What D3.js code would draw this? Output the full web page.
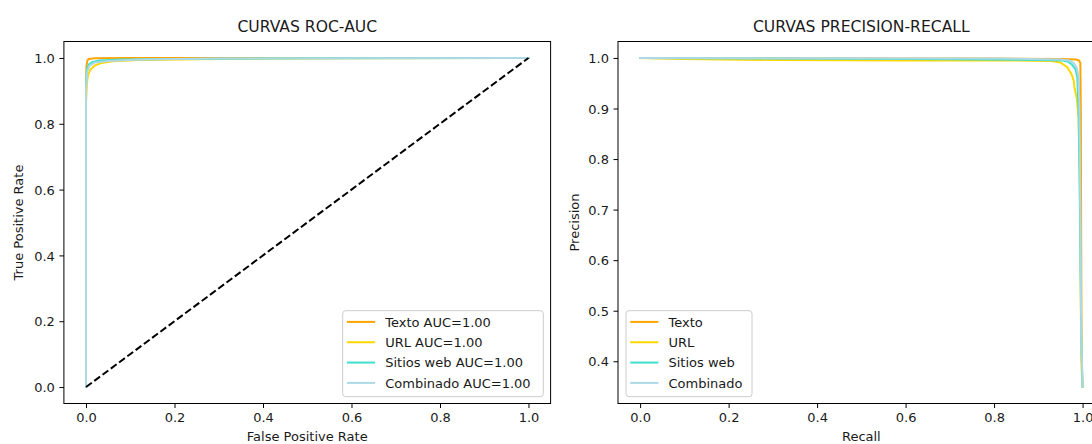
<!DOCTYPE html>
<html>
<head>
<meta charset="utf-8">
<script src="https://cdn.jsdelivr.net/npm/d3@7"></script>
<style>
  html, body { margin: 0; padding: 0; background: #fff; }
  svg { display: block; font-family: "DejaVu Sans", sans-serif; }
</style>
</head>
<body>
<svg id="chart" width="1092" height="444"></svg>
<script>
// ---- Series names and colours ----
const seriesNames = ["Texto", "URL", "Sitios web", "Combinado"];
const seriesColors = ["#FFA500", "#FFD700", "#40E0D0", "#ADD8E6"];
const aucValues = [1.00, 1.00, 1.00, 1.00];

// ---- ROC curves: [false positive rate, true positive rate] ----
const rocTexto = [[0, 0], [0, 0.90], [0.001, 0.975], [0.003, 0.992], [0.006, 0.997], [0.02, 0.999], [0.1, 0.9995], [0.4, 1.0], [1, 1]];
const rocUrl = [[0, 0], [0, 0.86], [0.002, 0.925], [0.005, 0.95], [0.01, 0.965], [0.02, 0.977], [0.035, 0.985], [0.06, 0.99], [0.12, 0.994], [0.3, 0.997], [0.6, 0.999], [1, 1]];
const rocSitios = [[0, 0], [0, 0.92], [0.002, 0.965], [0.006, 0.98], [0.015, 0.988], [0.03, 0.992], [0.08, 0.995], [0.2, 0.997], [0.5, 0.999], [1, 1]];
const rocCombinado = [[0, 0], [0, 0.91], [0.003, 0.96], [0.008, 0.977], [0.02, 0.986], [0.05, 0.991], [0.12, 0.995], [0.3, 0.998], [0.6, 0.999], [1, 1]];
const rocChance = [[0, 0], [1, 1]];

// ---- Precision-recall curves: [recall, precision] ----
const prTexto = [[0, 1.0], [0.2, 0.9995], [0.5, 0.999], [0.8, 0.999], [0.95, 0.998], [0.985, 0.997], [0.992, 0.995], [0.995, 0.99], [0.996, 0.9], [0.997, 0.6], [0.998, 0.4], [1, 0.349]];
const prUrl = [[0, 1.0], [0.1, 0.998], [0.3, 0.996], [0.6, 0.995], [0.85, 0.995], [0.93, 0.994], [0.95, 0.991], [0.965, 0.982], [0.975, 0.968], [0.98, 0.955], [0.982, 0.94], [0.987, 0.92], [0.991, 0.88], [0.994, 0.75], [0.996, 0.5], [0.998, 0.38], [1, 0.349]];
const prSitios = [[0, 1.0], [0.3, 0.999], [0.6, 0.998], [0.9, 0.996], [0.955, 0.995], [0.966, 0.993], [0.976, 0.987], [0.984, 0.978], [0.988, 0.962], [0.991, 0.9], [0.994, 0.7], [0.997, 0.45], [1, 0.349]];
const prCombinado = [[0, 1.0], [0.4, 0.9995], [0.8, 0.999], [0.95, 0.997], [0.97, 0.995], [0.98, 0.99], [0.987, 0.98], [0.991, 0.962], [0.993, 0.9], [0.995, 0.7], [0.997, 0.45], [1, 0.349]];

// ---- Tick values ----
const rocTicks = [0.0, 0.2, 0.4, 0.6, 0.8, 1.0];
const recallTicks = [0.0, 0.2, 0.4, 0.6, 0.8, 1.0];
const precisionTicks = [0.4, 0.5, 0.6, 0.7, 0.8, 0.9, 1.0];

const rocSeries = [rocTexto, rocUrl, rocSitios, rocCombinado];
const prSeries = [prTexto, prUrl, prSitios, prCombinado];

// ---- Layout ----
const panelTop = 41.5, panelBottom = 403.5, panelWidth = 486.7;
const leftPanelX = 63.9, rightPanelX = 618;
const tickLen = 4.5, tickPad = 4.5, lineW = 2;
const fontTick = 13, fontTitle = 15.6;
const textColor = "#1a1a1a";

const svg = d3.select("#chart");
svg.append("rect").attr("width", 1092).attr("height", 444).attr("fill", "#fff");

// matplotlib-style 5% padding around the data range
function padded(lo, hi) {
  const m = (hi - lo) * 0.05;
  return [lo - m, hi + m];
}

function drawPanel(opts) {
  const x = d3.scaleLinear().domain(opts.xDomain).range([opts.left, opts.left + panelWidth]);
  const y = d3.scaleLinear().domain(opts.yDomain).range([panelBottom, panelTop]);
  const g = svg.append("g");

  const clipId = "clip-" + opts.id;
  svg.append("clipPath").attr("id", clipId)
    .append("rect")
    .attr("x", opts.left).attr("y", panelTop)
    .attr("width", panelWidth).attr("height", panelBottom - panelTop);

  const plot = g.append("g").attr("clip-path", `url(#${clipId})`);
  const line = d3.line().x(d => x(d[0])).y(d => y(d[1]));

  opts.series.forEach((pts, i) => {
    plot.append("path")
      .attr("d", line(pts))
      .attr("fill", "none")
      .attr("stroke", seriesColors[i])
      .attr("stroke-width", lineW)
      .attr("stroke-linejoin", "round")
      .attr("stroke-linecap", "square");
  });

  if (opts.extraDashed) {
    plot.append("path")
      .attr("d", line(opts.extraDashed))
      .attr("fill", "none")
      .attr("stroke", "#000")
      .attr("stroke-width", lineW)
      .attr("stroke-dasharray", "7.2,3.1");
  }

  // axes
  const xAxis = d3.axisBottom(x).tickValues(opts.xTicks).tickFormat(d3.format(".1f"))
    .tickSizeInner(tickLen).tickSizeOuter(0).tickPadding(tickPad);
  const yAxis = d3.axisLeft(y).tickValues(opts.yTicks).tickFormat(d3.format(".1f"))
    .tickSizeInner(tickLen).tickSizeOuter(0).tickPadding(tickPad);

  const gx = g.append("g").attr("transform", `translate(0,${panelBottom})`).call(xAxis);
  const gy = g.append("g").attr("transform", `translate(${opts.left},0)`).call(yAxis);
  [gx, gy].forEach(a => {
    a.select(".domain").remove();
    a.selectAll("line").attr("stroke", "#000").attr("stroke-width", 1);
    a.selectAll("text").attr("fill", textColor)
      .style("font-size", fontTick + "px")
      .style("font-family", "DejaVu Sans, sans-serif");
  });
  gy.selectAll("text").attr("dy", "0.36em");

  // frame
  g.append("rect")
    .attr("x", opts.left).attr("y", panelTop)
    .attr("width", panelWidth).attr("height", panelBottom - panelTop)
    .attr("fill", "none").attr("stroke", "#000").attr("stroke-width", 1);

  const cx = opts.left + panelWidth / 2;
  g.append("text").attr("x", cx).attr("y", 32)
    .attr("text-anchor", "middle").attr("fill", textColor)
    .style("font-size", fontTitle + "px").text(opts.title);

  g.append("text").attr("x", cx).attr("y", 441)
    .attr("text-anchor", "middle").attr("fill", textColor)
    .style("font-size", fontTick + "px").text(opts.xLabel);

  const cy = (panelTop + panelBottom) / 2;
  g.append("text")
    .attr("transform", `translate(${opts.yLabelX},${cy}) rotate(-90)`)
    .attr("text-anchor", "middle").attr("fill", textColor)
    .style("font-size", fontTick + "px").text(opts.yLabel);

  // legend
  const lg = g.append("g");
  const lx = opts.legend.x, ly = opts.legend.y;
  lg.append("rect")
    .attr("x", lx).attr("y", ly)
    .attr("width", opts.legend.w).attr("height", 86)
    .attr("rx", 3).attr("ry", 3)
    .attr("fill", "#fff").attr("fill-opacity", 0.8)
    .attr("stroke", "#cccccc").attr("stroke-width", 1);
  opts.labels.forEach((lab, i) => {
    const ry = ly + 11.2 + i * 20.33;
    lg.append("line")
      .attr("x1", lx + 4.2).attr("x2", lx + 32.4)
      .attr("y1", ry).attr("y2", ry)
      .attr("stroke", seriesColors[i]).attr("stroke-width", lineW);
    lg.append("text")
      .attr("x", lx + 42.5).attr("y", ry + 4.7)
      .attr("fill", textColor)
      .style("font-size", fontTick + "px").text(lab);
  });
}

drawPanel({
  id: "roc",
  left: leftPanelX,
  xDomain: padded(0, 1),
  yDomain: padded(0, 1),
  series: rocSeries,
  extraDashed: rocChance,
  xTicks: rocTicks,
  yTicks: rocTicks,
  title: "CURVAS ROC-AUC",
  xLabel: "False Positive Rate",
  yLabel: "True Positive Rate",
  yLabelX: 23,
  labels: seriesNames.map((n, i) => `${n} AUC=${aucValues[i].toFixed(2)}`),
  legend: { x: 342.7, y: 310.7, w: 200.6 }
});

const allPrecision = prSeries.flat().map(d => d[1]);
drawPanel({
  id: "pr",
  left: rightPanelX,
  xDomain: padded(0, 1),
  yDomain: padded(d3.min(allPrecision), d3.max(allPrecision)),
  series: prSeries,
  xTicks: recallTicks,
  yTicks: precisionTicks,
  title: "CURVAS PRECISION-RECALL",
  xLabel: "Recall",
  yLabel: "Precision",
  yLabelX: 579,
  labels: seriesNames,
  legend: { x: 626, y: 310.7, w: 126 }
});
</script>
</body>
</html>
